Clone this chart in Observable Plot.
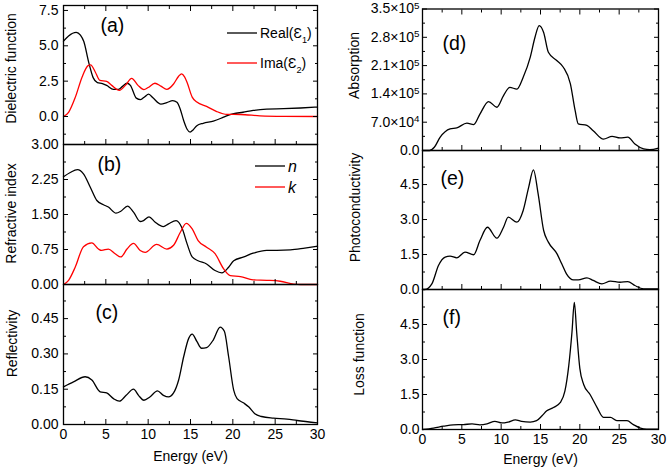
<!DOCTYPE html>
<html><head><meta charset="utf-8">
<script src="https://cdn.jsdelivr.net/npm/d3@7"></script>
<script src="https://cdn.jsdelivr.net/npm/@observablehq/plot@0.6"></script>
<style>
body{margin:0;background:#fff;}
#chart{position:relative;width:668px;height:474px;font-family:"Liberation Sans",Arial,sans-serif;}
#chart svg{position:absolute;left:0;top:0;}
</style></head><body><div id="chart"></div>
<script>
// ---- data (Energy in eV, value) ----
const realEps = [[0,5.33],[0.6,5.7],[1.5,5.95],[2.0,5.75],[2.4,5.3],[2.95,3.9],[3.5,2.75],[4.0,2.4],[4.6,2.33],[5.1,2.2],[5.9,1.92],[6.5,1.92],[7.0,2.15],[7.5,2.35],[7.9,2.2],[8.6,1.3],[9.1,1.2],[9.6,1.4],[10.05,1.58],[10.6,1.3],[11.5,0.88],[12.2,0.98],[12.9,1.12],[13.4,1.0],[13.8,0.5],[14.2,-0.3],[14.6,-0.9],[14.95,-1.1],[15.3,-0.95],[15.75,-0.65],[16.5,-0.48],[17.7,-0.33],[18.9,-0.05],[19.5,0.1],[20.1,0.2],[21.2,0.3],[22.4,0.43],[24.0,0.52],[26,0.55],[28,0.6],[30,0.67]];
const imaEps = [[0,0],[0.6,0.3],[1.4,1.37],[2.2,2.8],[2.9,3.6],[3.2,3.65],[3.75,3.15],[4.3,2.55],[5.1,2.48],[5.7,2.2],[6.6,1.85],[7.3,2.2],[8.05,2.7],[8.8,2.2],[9.5,1.9],[10.0,2.05],[10.8,2.35],[11.5,2.15],[12.2,1.92],[13.0,2.3],[13.6,2.85],[13.95,3.02],[14.3,2.8],[14.6,2.4],[15.2,1.37],[15.75,1.02],[16.9,0.72],[18.1,0.35],[19.3,0.15],[20.9,0.14],[23.2,0.05],[26,0.01],[30,0]];
const nIndex = [[0,2.31],[0.8,2.4],[1.65,2.46],[2.36,2.37],[3.15,2.09],[3.94,1.8],[4.72,1.71],[5.3,1.66],[6.2,1.53],[6.77,1.57],[7.56,1.68],[8.27,1.55],[9.06,1.35],[9.45,1.37],[10.1,1.45],[10.8,1.34],[11.8,1.24],[12.4,1.3],[13.3,1.37],[14.0,1.21],[14.6,0.87],[15.2,0.59],[15.9,0.51],[16.9,0.44],[17.9,0.3],[18.7,0.25],[19.5,0.37],[20.1,0.51],[21.3,0.59],[22.4,0.67],[24,0.73],[25.2,0.73],[26.8,0.74],[28.5,0.78],[30,0.82]];
const kIndex = [[0,0],[0.6,0.09],[1.38,0.37],[2.36,0.81],[3.35,0.89],[4.13,0.76],[4.5,0.73],[5.3,0.76],[6.1,0.66],[6.77,0.59],[7.5,0.76],[8.27,0.88],[9.06,0.73],[9.65,0.69],[11.0,0.86],[12.2,0.76],[13.0,0.84],[13.8,1.12],[14.5,1.31],[15.2,1.19],[15.9,0.94],[16.9,0.8],[17.9,0.66],[18.9,0.34],[19.7,0.19],[20.9,0.17],[22.4,0.1],[24,0.09],[25.6,0.07],[27.2,0.01],[28,0],[30,0]];
const reflectivity = [[0,0.16],[1.18,0.181],[2.56,0.203],[3.35,0.189],[4.33,0.139],[5.1,0.134],[5.9,0.11],[6.6,0.099],[7.4,0.124],[8.27,0.15],[8.86,0.124],[9.5,0.103],[10.2,0.117],[11.1,0.143],[11.8,0.124],[12.4,0.117],[13.0,0.134],[13.6,0.189],[14.2,0.289],[14.8,0.367],[15.2,0.384],[15.75,0.353],[16.3,0.324],[16.9,0.327],[17.7,0.36],[18.5,0.414],[19.0,0.396],[19.5,0.289],[20.1,0.146],[20.5,0.11],[21.3,0.091],[21.9,0.074],[22.6,0.046],[23.4,0.034],[24.8,0.027],[26.4,0.023],[27.6,0.017],[30,0.007]];
const absorption = [[0,0],[0.9,0],[1.5,8000],[2.25,33000],[3.5,53500],[4.36,56000],[5.64,67500],[6.5,64000],[7.3,90000],[8.4,121000],[9.45,107000],[10.3,136000],[11.1,156000],[12.0,152000],[12.8,181000],[13.7,231000],[14.3,280000],[14.83,309000],[15.4,292000],[16.0,243000],[17.1,222000],[17.9,206000],[18.8,165000],[19.4,99000],[19.8,66000],[20.9,62000],[21.7,49000],[23.0,28000],[24.1,35000],[25.1,31000],[26.1,33000],[27.0,16000],[28.1,4000],[28.9,2000],[30,6000]];
const photocond = [[0,0],[0.3,0],[1.19,0.24],[2.03,1.03],[2.88,1.39],[3.5,1.43],[4.36,1.36],[5.4,1.6],[6.5,1.49],[7.3,2.1],[8.26,2.67],[9.45,2.2],[10.3,2.67],[10.9,3.1],[12.0,2.89],[12.8,3.39],[13.5,4.39],[14.1,5.13],[14.7,4.1],[15.4,2.53],[16.0,2.03],[17.1,1.53],[17.7,1.1],[18.3,0.67],[19.2,0.41],[19.8,0.41],[20.9,0.5],[21.7,0.39],[22.8,0.24],[23.9,0.36],[25.1,0.31],[26.1,0.34],[27,0.17],[28.1,0.03],[30,0.03]];
const lossFn = [[0,0],[1.4,0.06],[2.67,0.14],[3.9,0.2],[5.2,0.21],[6.3,0.24],[7.3,0.2],[8.2,0.24],[9.2,0.35],[10.1,0.28],[10.9,0.32],[11.8,0.41],[12.6,0.35],[13.7,0.32],[14.5,0.38],[15.2,0.59],[15.8,0.8],[16.65,0.94],[17.5,1.15],[18.1,1.64],[18.6,2.76],[19.0,4.17],[19.3,5.45],[19.6,4.17],[20.0,2.62],[20.5,1.92],[21.3,1.5],[22.2,0.94],[23.0,0.52],[23.9,0.52],[24.7,0.38],[26.0,0.38],[26.8,0.21],[27.7,0.06],[28.5,0.02],[30,0.02]];

// ---- tick labels ----
const xMajor = [0,5,10,15,20,25,30];
const xMinor = [2.5,7.5,12.5,17.5,22.5,27.5];
const yTicksA = [0,2.5,5,7.5], yMinorA = [-1.25,1.25,3.75,6.25];
const yTicksB = [0,0.75,1.5,2.25,3], yMinorB = [0.375,1.125,1.875,2.625];
const yTicksC = [0,0.15,0.3,0.45], yMinorC = [0.075,0.225,0.375,0.525];
const yTicksD = [0,70000,140000,210000,280000,350000], yMinorD = [35000,105000,175000,245000,315000];
const yTicksEF = [0,1.5,3,4.5], yMinorEF = [0.75,2.25,3.75,5.25];

const W = 668, H = 474;
const FONT = '"Liberation Sans", Arial, sans-serif';
const fmt1 = d => d.toFixed(1), fmt2 = d => d.toFixed(2);
const fmtSci = d => { if (d === 0) return "0.0"; const e = Math.floor(Math.log10(d)+1e-9); return (d/Math.pow(10,e)).toFixed(1) + "×10^" + e; };

const panels = [
  {f:{l:63,r:317,t:5,b:144}, dom:[-1.98,7.85], maj:yTicksA, min:yMinorA, fmt:fmt1, series:[[realEps,"#000"],[imaEps,"#ff0000"]], title:"Dielectric function", tpos:[11,68], tag:"(a)", tagpos:[100,25], top:true, bottomLabels:false},
  {f:{l:63,r:317,t:144,b:284}, dom:[0,3], maj:yTicksB, min:yMinorB, fmt:fmt2, series:[[nIndex,"#000"],[kIndex,"#ff0000"]], title:"Refractive index", tpos:[11,213], tag:"(b)", tagpos:[97,164], top:false, bottomLabels:false},
  {f:{l:63,r:317,t:284,b:424}, dom:[0,0.595], maj:yTicksC, min:yMinorC, fmt:fmt2, series:[[reflectivity,"#000"]], title:"Reflectivity", tpos:[12,343], tag:"(c)", tagpos:[95,312], top:false, bottomLabels:true},
  {f:{l:422,r:658,t:8.5,b:150}, dom:[0,350000], maj:yTicksD, min:yMinorD, fmt:fmtSci, series:[[absorption,"#000"]], title:"Absorption", tpos:[354,65], tag:"(d)", tagpos:[442,43], top:true, bottomLabels:false},
  {f:{l:422,r:658,t:150,b:289}, dom:[0,5.96], maj:yTicksEF, min:yMinorEF, fmt:fmt1, series:[[photocond,"#000"]], title:"Photoconductivity", tpos:[355,207], tag:"(e)", tagpos:[440,178], top:false, bottomLabels:false},
  {f:{l:422,r:658,t:289,b:429}, dom:[0,6.0], maj:yTicksEF, min:yMinorEF, fmt:fmt1, series:[[lossFn,"#000"]], title:"Loss function", tpos:[359,354], tag:"(f)", tagpos:[442,317], top:false, bottomLabels:true}
];

const chart = document.getElementById("chart");
const blank = () => "";

for (const p of panels) {
  const f = p.f;
  const cy = (f.t + f.b) / 2;
  const marks = [];
  for (const [data, color] of p.series) {
    marks.push(Plot.line(data, {x: d => d[0], y: d => d[1], stroke: color, strokeWidth: 1.3, curve: "monotone-x"}));
  }
  marks.push(Plot.frame({stroke: "#000", strokeWidth: 1.3}));
  // inward ticks
  marks.push(Plot.axisX({ticks: xMajor, anchor: "bottom", tickSize: -5, tickFormat: blank, label: null}));
  marks.push(Plot.axisX({ticks: xMinor, anchor: "bottom", tickSize: -3, tickFormat: blank, label: null}));
  if (p.top) {
    marks.push(Plot.axisX({ticks: xMajor, anchor: "top", tickSize: -5, tickFormat: blank, label: null}));
    marks.push(Plot.axisX({ticks: xMinor, anchor: "top", tickSize: -3, tickFormat: blank, label: null}));
  }
  for (const anchor of ["left", "right"]) {
    marks.push(Plot.axisY({ticks: p.maj, anchor, tickSize: -5, tickFormat: blank, label: null}));
    marks.push(Plot.axisY({ticks: p.min, anchor, tickSize: -3, tickFormat: blank, label: null}));
  }
  // labels
  marks.push(Plot.axisY({ticks: p.maj, anchor: "left", tickSize: 0, tickPadding: p.f.l > 300 ? 3 : 5, tickFormat: p.fmt, label: null}));
  if (p.bottomLabels) {
    marks.push(Plot.axisX({ticks: xMajor, anchor: "bottom", tickSize: 0, tickPadding: 5, tickFormat: d => String(d), label: null}));
    marks.push(Plot.text(["Energy (eV)"], {frameAnchor: "bottom", dy: p.f.l > 300 ? 34 : 36, text: d => d, fontSize: 14, textAnchor: "middle"}));
  }
  marks.push(Plot.text([p.title], {frameAnchor: "left", dx: p.tpos[0] - f.l, dy: p.tpos[1] - cy, rotate: -90, text: d => d, fontSize: 14, textAnchor: "middle", lineAnchor: "middle"}));
  marks.push(Plot.text([p.tag], {frameAnchor: "top-left", dx: p.tagpos[0] - f.l, dy: p.tagpos[1] - f.t, text: d => d, fontSize: 19.5, textAnchor: "start", lineAnchor: "middle"}));

  const svg = Plot.plot({
    width: W, height: H,
    marginLeft: f.l, marginRight: W - f.r, marginTop: f.t, marginBottom: H - f.b,
    style: {background: "transparent", overflow: "visible", fontFamily: FONT, fontSize: "14px", color: "#000"},
    x: {domain: [0, 30]},
    y: {domain: p.dom},
    marks
  });
  // superscripts
  d3.select(svg).selectAll("text").each(function () {
    const t = this.textContent;
    if (t.includes("^")) {
      const [a, b] = t.split("^");
      const s = d3.select(this);
      s.text(a);
      s.append("tspan").attr("dy", "-0.45em").attr("font-size", "0.7em").text(b);
    }
  });
  chart.appendChild(svg);
}

// legends (overlay)
const leg = d3.select(chart).append("svg").attr("width", W).attr("height", H)
  .style("position","absolute").style("left",0).style("top",0).style("overflow","visible")
  .attr("font-family", FONT);
function legendItem(x1, x2, y, color, parts, size, italic) {
  leg.append("line").attr("x1", x1).attr("x2", x2).attr("y1", y).attr("y2", y).attr("stroke", color).attr("stroke-width", 1.3);
  const t = leg.append("text").attr("x", x2 + 3).attr("y", y).attr("dy", "0.35em").attr("font-size", size).attr("fill", "#000");
  if (italic) t.attr("font-style", "italic");
  for (const [str, sub] of parts) {
    const ts = t.append("tspan").text(str);
    if (sub) ts.attr("font-size", "0.65em").attr("baseline-shift", "sub");
  }
}
legendItem(227, 257, 33, "#000", [["Real(Ɛ"],["1",true],[")"]], 14);
legendItem(227, 257, 63, "#ff0000", [["Ima(Ɛ"],["2",true],[")"]], 14);
legendItem(255, 285, 166, "#000", [["n"]], 16, true);
legendItem(255, 285, 187, "#ff0000", [["k"]], 16, true);
</script></body></html>
